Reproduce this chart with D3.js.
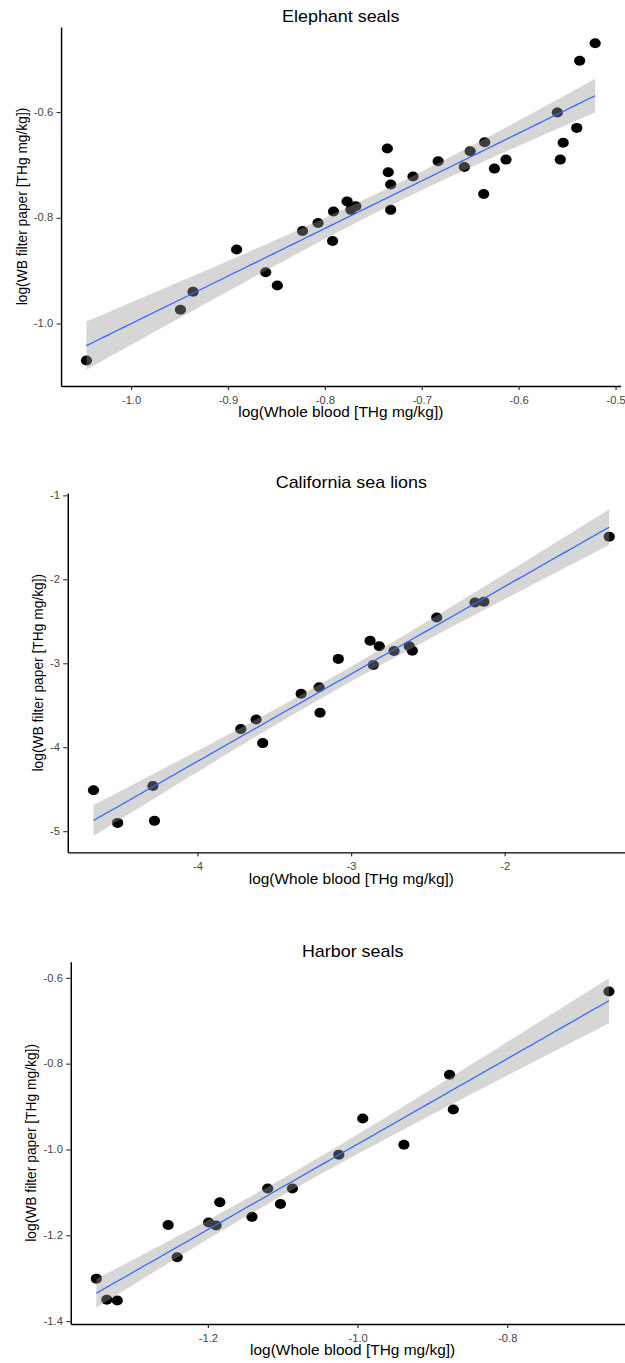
<!DOCTYPE html>
<html>
<head>
<meta charset="utf-8">
<script src="https://cdn.jsdelivr.net/npm/d3@7"></script>
<style>
  body { margin: 0; background: #fff; }
  svg { display: block; }
  text { font-family: "Liberation Sans", Arial, sans-serif; }
</style>
</head>
<body>
<div class="chart"></div>
<script>
// values (log scale, both axes)
const panelTitles = ["Elephant seals", "California sea lions", "Harbor seals"];
const xTitle = "log(Whole blood [THg mg/kg])";
const yTitle = "log(WB filter paper [THg mg/kg])";

const elephantX = [-1.046, -0.949, -0.936, -0.891, -0.861, -0.849, -0.823, -0.807, -0.791, -0.792,
  -0.777, -0.773, -0.768, -0.7355, -0.7345, -0.732, -0.732, -0.709, -0.683, -0.656,
  -0.650, -0.635, -0.636, -0.625, -0.613, -0.560, -0.557, -0.554, -0.540, -0.537, -0.521];
const elephantY = [-1.070, -0.974, -0.940, -0.860, -0.903, -0.928, -0.825, -0.810, -0.788, -0.844,
  -0.769, -0.785, -0.778, -0.669, -0.714, -0.737, -0.785, -0.722, -0.693, -0.704,
  -0.674, -0.657, -0.755, -0.707, -0.690, -0.601, -0.690, -0.658, -0.630, -0.503, -0.470];

const sealionX = [-4.677, -4.520, -4.290, -4.280, -3.718, -3.618, -3.575, -3.325, -3.208, -3.202,
  -3.083, -2.876, -2.855, -2.816, -2.720, -2.621, -2.601, -2.442, -2.193, -2.135, -1.319];
const sealionY = [-4.513, -4.901, -4.462, -4.877, -3.784, -3.669, -3.951, -3.364, -3.286, -3.590,
  -2.948, -2.731, -3.020, -2.798, -2.853, -2.798, -2.850, -2.454, -2.276, -2.268, -1.492];

const harborX = [-1.349, -1.335, -1.321, -1.253, -1.241, -1.199, -1.189, -1.184, -1.141, -1.120,
  -1.103, -1.087, -1.025, -0.993, -0.938, -0.877, -0.872, -0.664];
const harborY = [-1.301, -1.350, -1.352, -1.176, -1.251, -1.170, -1.177, -1.123, -1.157, -1.091,
  -1.127, -1.091, -1.012, -0.928, -0.989, -0.826, -0.907, -0.632];

const elephantXTicks = [-1.0, -0.9, -0.8, -0.7, -0.6, -0.5];
const elephantYTicks = [-1.0, -0.8, -0.6];
const sealionXTicks = [-4, -3, -2];
const sealionYTicks = [-5, -4, -3, -2, -1];
const harborXTicks = [-1.2, -1.0, -0.8];
const harborYTicks = [-1.4, -1.2, -1.0, -0.8, -0.6];

const W = 625, H = 1363;
const sx = 1.12; // the reference figure is a little widened

const locale = d3.formatLocale({ decimal: ".", thousands: ",", grouping: [3], currency: ["$", ""], minus: "-" });

// panel frames, in page pixels
const panels = [
  { title: panelTitles[0], xs: elephantX, ys: elephantY, xTicks: elephantXTicks, yTicks: elephantYTicks,
    fmt: ".1f", left: 61, right: 620.6, top: 27, bottom: 386 },
  { title: panelTitles[1], xs: sealionX, ys: sealionY, xTicks: sealionXTicks, yTicks: sealionYTicks,
    fmt: "d", left: 67.7, right: 635, top: 493, bottom: 852.3 },
  { title: panelTitles[2], xs: harborX, ys: harborY, xTicks: harborXTicks, yTicks: harborYTicks,
    fmt: ".1f", left: 70.7, right: 634.6, top: 961.7, bottom: 1324 },
];

const svg = d3.select(".chart").append("svg").attr("width", W).attr("height", H);
const root = svg.append("g").attr("transform", `scale(${sx},1)`);

// t quantile (0.975) via Cornish-Fisher expansion
function tQuantile(df) {
  const z = 1.959964;
  return z + (z ** 3 + z) / 4 / df
    + (5 * z ** 5 + 16 * z ** 3 + 3 * z) / 96 / df ** 2
    + (3 * z ** 7 + 19 * z ** 5 + 17 * z ** 3 - 15 * z) / 384 / df ** 3;
}

// lm fit with 95% confidence band, like geom_smooth(method = "lm")
function smooth(xs, ys) {
  const n = xs.length;
  const mx = d3.mean(xs), my = d3.mean(ys);
  const sxx = d3.sum(xs, (x) => (x - mx) ** 2);
  const b = d3.sum(xs.map((x, i) => (x - mx) * (ys[i] - my))) / sxx;
  const a = my - b * mx;
  const s = Math.sqrt(d3.sum(xs.map((x, i) => (ys[i] - a - b * x) ** 2)) / (n - 2));
  const t = tQuantile(n - 2);
  const [x0, x1] = d3.extent(xs);
  return d3.range(80).map((i) => {
    const x = x0 + ((x1 - x0) * i) / 79;
    const fit = a + b * x;
    const se = s * Math.sqrt(1 / n + (x - mx) ** 2 / sxx);
    return { x, fit, lo: fit - t * se, hi: fit + t * se };
  });
}

function expand([lo, hi]) {
  const d = (hi - lo) * 0.05;
  return [lo - d, hi + d];
}

function drawPanel(p) {
  const band = smooth(p.xs, p.ys);
  const left = p.left / sx, right = p.right / sx;

  const x = d3.scaleLinear().domain(expand(d3.extent(p.xs))).range([left, right]);
  const yExt = d3.extent([...p.ys, ...band.map((d) => d.lo), ...band.map((d) => d.hi)]);
  const y = d3.scaleLinear().domain(expand(yExt)).range([p.bottom, p.top]);

  const g = root.append("g");
  const pts = p.xs.map((v, i) => [v, p.ys[i]]);

  g.append("g")
    .selectAll("circle")
    .data(pts)
    .join("circle")
    .attr("cx", (d) => x(d[0]))
    .attr("cy", (d) => y(d[1]))
    .attr("r", 5)
    .attr("fill", "#000");

  g.append("path")
    .datum(band)
    .attr("d", d3.area().x((d) => x(d.x)).y0((d) => y(d.lo)).y1((d) => y(d.hi)))
    .attr("fill", "#999999")
    .attr("fill-opacity", 0.4);

  g.append("path")
    .datum(band)
    .attr("d", d3.line().x((d) => x(d.x)).y((d) => y(d.fit)))
    .attr("fill", "none")
    .attr("stroke", "#3366FF")
    .attr("stroke-width", 1.2);

  const fmt = locale.format(p.fmt);

  const xAxis = g.append("g")
    .attr("transform", `translate(0,${p.bottom})`)
    .call(d3.axisBottom(x).tickValues(p.xTicks).tickFormat(fmt).tickSize(4).tickSizeOuter(0).tickPadding(7));

  const yAxis = g.append("g")
    .attr("transform", `translate(${left},0)`)
    .call(d3.axisLeft(y).tickValues(p.yTicks).tickFormat(fmt).tickSize(4).tickSizeOuter(0).tickPadding(3));

  [xAxis, yAxis].forEach((ax) => {
    ax.select(".domain").attr("stroke", "#000").attr("stroke-width", 1.3);
    ax.selectAll(".tick line").attr("stroke", "#333").attr("stroke-width", 1.1);
    ax.selectAll(".tick text").attr("fill", "#444").attr("font-size", 10);
  });

  g.append("text")
    .attr("x", (left + right) / 2)
    .attr("y", p.top - 4.5)
    .attr("text-anchor", "middle")
    .attr("font-size", 16)
    .attr("fill", "#000")
    .text(p.title);

  g.append("text")
    .attr("x", (left + right) / 2)
    .attr("y", p.bottom + 31.5)
    .attr("text-anchor", "middle")
    .attr("font-size", 13.8)
    .attr("fill", "#000")
    .text(xTitle);

  const labelLeft = (left + yAxis.node().getBBox().x) * sx;
  const tx = (labelLeft - 12.5) / sx;
  const ty = (p.top + p.bottom) / 2;
  g.append("text")
    .attr("transform", `translate(${tx},${ty}) rotate(-90)`)
    .attr("dy", "0.35em")
    .attr("text-anchor", "middle")
    .attr("font-size", 13.8)
    .attr("fill", "#000")
    .text(yTitle);
}

panels.forEach(drawPanel);
</script>
</body>
</html>
